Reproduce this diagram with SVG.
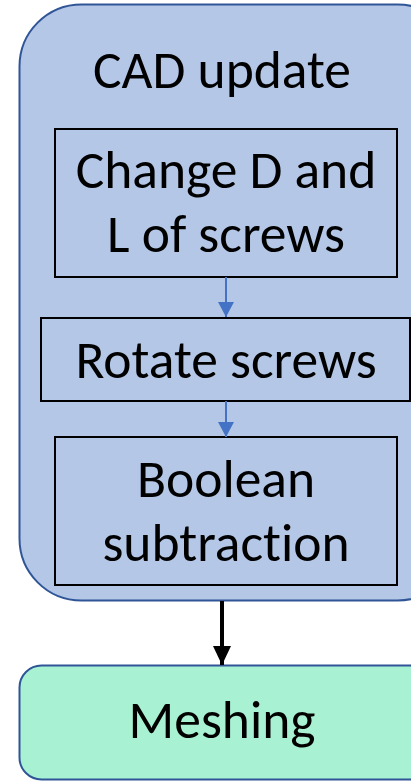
<svg xmlns="http://www.w3.org/2000/svg" width="411" height="781" viewBox="0 0 411 781">
  <defs>
    <style>
      .lbl { font-family: Carlito, Lato, "Liberation Sans", sans-serif; font-size: 53.5px; fill: #000; text-anchor: middle; font-variant-ligatures: none; }
      .step { fill: none; stroke: #000; stroke-width: 2; }
      .thin { stroke: #4472c4; stroke-width: 2; fill: none; }
    </style>
    <marker id="ahBlue" markerUnits="userSpaceOnUse" markerWidth="16" markerHeight="16" refX="15" refY="8" orient="auto">
      <path d="M0,0 L15,8 L0,16 Z" fill="#4472c4"/>
    </marker>
    <marker id="ahBlack" markerUnits="userSpaceOnUse" markerWidth="19" markerHeight="18" refX="19" refY="9" orient="auto">
      <path d="M0,0 L19,9 L0,18 Z" fill="#000"/>
    </marker>
  </defs>

  <!-- CAD update container -->
  <g id="cad-update">
    <rect x="19.5" y="4.5" width="440" height="596" rx="62" ry="62" fill="#b4c7e7" stroke="#2f5597" stroke-width="2"/>
    <text class="lbl" x="222" y="88">CAD update</text>
  </g>

  <g id="change-d-l">
    <rect class="step" x="55" y="129" width="342" height="148"/>
    <text class="lbl" x="226" y="188">Change D and</text>
    <text class="lbl" x="226" y="252">L of screws</text>
  </g>

  <g id="rotate-screws">
    <rect class="step" x="41" y="318" width="369" height="83"/>
    <text class="lbl" x="226" y="378">Rotate screws</text>
  </g>

  <g id="boolean-subtraction">
    <rect class="step" x="55" y="437" width="342" height="148"/>
    <text class="lbl" x="226" y="497">Boolean</text>
    <text class="lbl" x="226" y="561">subtraction</text>
  </g>

  <g id="meshing">
    <rect x="19.5" y="665.5" width="440" height="114" rx="22" ry="22" fill="#a9f1d3" stroke="#2f5597" stroke-width="2"/>
    <text class="lbl" x="222" y="738">Meshing</text>
  </g>

  <g id="connectors">
    <line class="thin" x1="226" y1="277" x2="226" y2="317" marker-end="url(#ahBlue)"/>
    <line class="thin" x1="226" y1="401" x2="226" y2="437" marker-end="url(#ahBlue)"/>
    <line x1="222" y1="601" x2="222" y2="665" stroke="#000" stroke-width="4" marker-end="url(#ahBlack)"/>
  </g>
</svg>
